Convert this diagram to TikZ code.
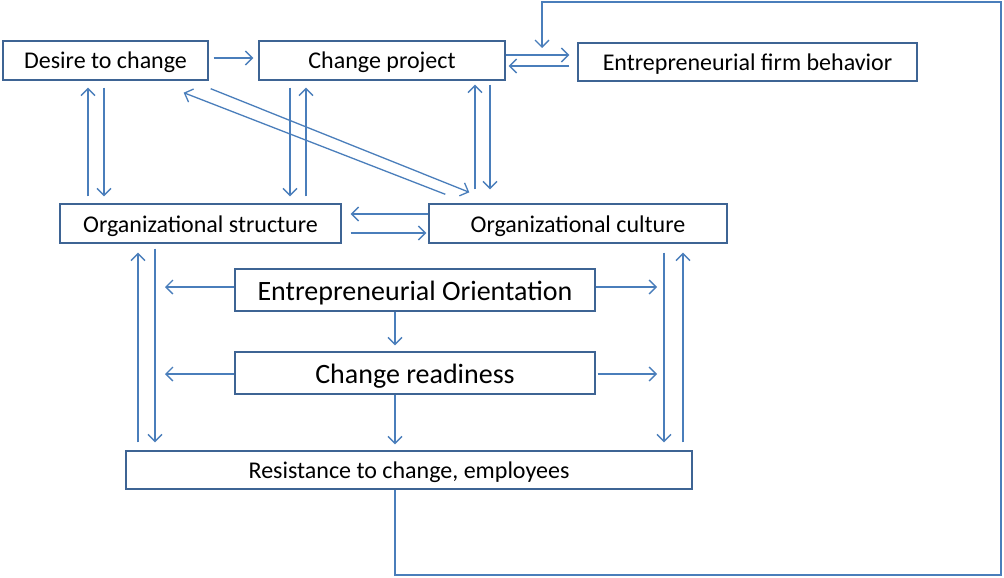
\documentclass[tikz,border=0pt]{standalone}
\usepackage{fontspec}
\setmainfont{Carlito}
\usetikzlibrary{arrows.meta}
\definecolor{boxline}{HTML}{3E6494}
\definecolor{arrowblue}{HTML}{4A7EBB}
\begin{document}
\begin{tikzpicture}[x=1pt,y=-1pt,
  box/.style={draw=boxline, line width=1.4pt, fill=white, inner sep=0pt,
              text height=21pt, text depth=4pt,
              font=\fontsize{24}{28}\selectfont},
  bigbox/.style={box, text height=24pt, text depth=4pt,
                 font=\fontsize{28}{32}\selectfont},
  arr/.style={draw=arrowblue, line width=1.3pt,
              -{Straight Barb[length=7pt,width=14pt,line width=1.3pt]}}]
\useasboundingbox (0,0) rectangle (1004,578);
\fill[white] (0,0) rectangle (1004,578);

% boxes
\node[box, minimum width=205pt, minimum height=39pt] (desire) at (105.5,60.5) {Desire to change};
\node[box, minimum width=246pt, minimum height=39pt] (cp) at (382,60.5) {Change project};
\node[box, minimum width=339pt, minimum height=38pt] (efb) at (747.5,62) {Entrepreneurial firm behavior};
\node[box, minimum width=281pt, minimum height=39pt] (os) at (200.5,223.5) {Organizational structure};
\node[box, minimum width=298pt, minimum height=39pt] (oc) at (578,223.5) {Organizational culture};
\node[bigbox, minimum width=360pt, minimum height=42pt] (eo) at (415,290) {Entrepreneurial Orientation};
\node[bigbox, minimum width=360pt, minimum height=42pt] (cr) at (415,373) {Change readiness};
\node[box, minimum width=566pt, minimum height=38pt] (res) at (409,470) {Resistance to change, employees};

% free ends of the side arrows and of the feedback loop
\coordinate (eoL) at (165,287);
\coordinate (eoR) at (657,287);
\coordinate (crL) at (165,374);
\coordinate (crR) at (657,374);
\coordinate (fb1) at (1001,575);
\coordinate (fb2) at (1001,2);
\coordinate (fb3) at (542,48);

% top row
\draw[arr, shorten <=5pt, shorten >=5pt] ([yshift=2.5pt]desire.east) -- ([yshift=2.5pt]cp.west);
\draw[arr, shorten >=8pt] ([yshift=5.5pt]cp.east) -- ([yshift=5.5pt]cp.east -| efb.west);
\draw[arr, shorten <=8pt, shorten >=3pt] ([yshift=-5.5pt]cp.east -| efb.west) -- ([yshift=-5.5pt]cp.east);

% desire <-> structure
\draw[arr, shorten <=7pt, shorten >=7pt] ([xshift=-17.5pt]desire.south |- os.north) -- ([xshift=-17.5pt]desire.south);
\draw[arr, shorten <=7pt, shorten >=7pt] ([xshift=-1.5pt]desire.south) -- ([xshift=-1.5pt]desire.south |- os.north);

% project <-> structure
\draw[arr, shorten <=7pt, shorten >=7pt] ([xshift=-92pt]cp.south) -- ([xshift=-92pt]cp.south |- os.north);
\draw[arr, shorten <=7pt, shorten >=7pt] ([xshift=-76pt]cp.south |- os.north) -- ([xshift=-76pt]cp.south);

% project <-> culture
\draw[arr, shorten <=14pt, shorten >=4pt] ([xshift=93pt]cp.south |- oc.north) -- ([xshift=93pt]cp.south);
\draw[arr, shorten <=4pt, shorten >=14pt] ([xshift=108pt]cp.south) -- ([xshift=108pt]cp.south |- oc.north);

% desire <-> culture (diagonals)
\draw[arr] ([shift={(2pt,-8pt)}]desire.south east) -- ([shift={(41pt,11pt)}]oc.north west);
\draw[arr] ([shift={(17pt,9pt)}]oc.north west) -- ([shift={(-25pt,-12pt)}]desire.south east);

% structure <-> culture
\draw[arr, shorten >=9pt] ([yshift=9.5pt]oc.west) -- ([yshift=9.5pt]oc.west -| os.east);
\draw[arr, shorten <=9pt, shorten >=2pt] ([yshift=-9.5pt]os.east) -- ([yshift=-9.5pt]os.east -| oc.west);

% structure <-> resistance
\draw[arr, shorten <=8pt, shorten >=9pt] ([xshift=-62.5pt]os.south |- res.north) -- ([xshift=-62.5pt]os.south);
\draw[arr, shorten <=5pt, shorten >=8pt] ([xshift=-45.5pt]os.south) -- ([xshift=-45.5pt]os.south |- res.north);

% culture <-> resistance
\draw[arr, shorten <=9pt, shorten >=8pt] ([xshift=86pt]oc.south) -- ([xshift=86pt]oc.south |- res.north);
\draw[arr, shorten <=8pt, shorten >=9pt] ([xshift=105pt]oc.south |- res.north) -- ([xshift=105pt]oc.south);

% orientation and readiness
\draw[arr] (eo.west |- eoL) -- (eoL);
\draw[arr] (eo.east |- eoR) -- (eoR);
\draw[arr] (cr.west |- crL) -- (crL);
\draw[arr, shorten <=2pt] (cr.east |- crR) -- (crR);
\draw[arr, shorten >=6pt] ([xshift=-20pt]eo.south) -- ([xshift=-20pt]eo.south |- cr.north);
\draw[arr, shorten >=6pt] ([xshift=-20pt]cr.south) -- ([xshift=-20pt]cr.south |- res.north);

% feedback loop
\draw[arr] ([xshift=-14pt]res.south) |- (fb1) -- (fb2) -| (fb3);
\end{tikzpicture}
\end{document}
